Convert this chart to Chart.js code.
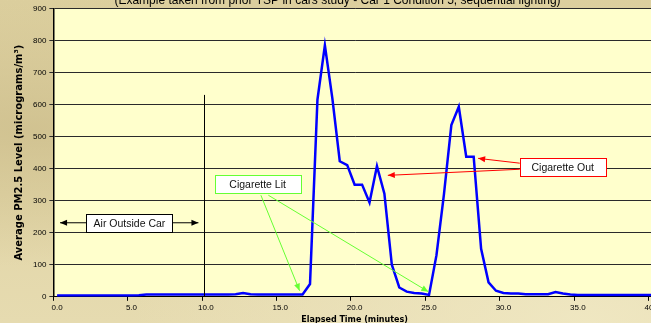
<!DOCTYPE html>
<html lang="en">
<head>
<meta charset="UTF-8" />
<title>PM2.5 in car</title>
<script src="https://cdn.jsdelivr.net/npm/chart.js"></script>
<style>
  html, body { margin: 0; padding: 0; overflow: hidden; }
  body {
    width: 651px;
    height: 323px;
    position: relative;
    background:
      radial-gradient(ellipse at 90% 100%, rgba(240,232,195,0.9) 0%, rgba(240,232,195,0) 55%),
      radial-gradient(ellipse at 5% 40%, rgba(205,190,140,0.8) 0%, rgba(205,190,140,0) 50%),
      linear-gradient(180deg, #dccf9e 0%, #e2d6a8 60%, #e6dbb0 100%);
  }
  .wrap { position: absolute; left: 0; top: -7px; }
</style>
</head>
<body>
<div class="wrap"><canvas id="chart" width="662" height="333"></canvas></div>
<script>
// elapsed time categories (minutes)
const timeLabels = ['0.0','0.5','1.0','1.5','2.0','2.5','3.0','3.5','4.0','4.5',
  '5.0','5.5','6.0','6.5','7.0','7.5','8.0','8.5','9.0','9.5',
  '10.0','10.5','11.0','11.5','12.0','12.5','13.0','13.5','14.0','14.5',
  '15.0','15.5','16.0','16.5','17.0','17.5','18.0','18.5','19.0','19.5',
  '20.0','20.5','21.0','21.5','22.0','22.5','23.0','23.5','24.0','24.5',
  '25.0','25.5','26.0','26.5','27.0','27.5','28.0','28.5','29.0','29.5',
  '30.0','30.5','31.0','31.5','32.0','32.5','33.0','33.5','34.0','34.5',
  '35.0','35.5','36.0','36.5','37.0','37.5','38.0','38.5','39.0','39.5','40.0'];

// average PM2.5 (micrograms/m3)
const pm25 = [4,4,4,4,4,4,4,4,4,4,
  4,5,7,7,7,7,7,7,7,7,
  7,7,7,7,8,12,8,7,7,7,
  7,7,7,7,40,615,785,620,423,411,
  350,350,294,408,322,100,29,16,12,10,
  6,130,319,536,593,437,437,150,45,19,
  12,10,10,8,8,8,8,15,10,7,
  6,6,6,6,6,6,6,6,6,6,6];

const yTicks = [0,100,200,300,400,500,600,700,800,900];

// annotation anchors in chart units (category index, PM2.5 value)
const divider = { x: 19.7, from: 0, to: 630 };
const textBoxes = [
  { text: 'Air Outside Car', x: 9.73, y: 230, color: '#000000' },
  { text: 'Cigarette Lit', x: 26.96, y: 351, color: '#66ff33' },
  { text: 'Cigarette Out', x: 67.97, y: 405, color: '#ff0000' }
];
const arrows = [
  { from: [3.92, 231], to: [0.4, 231], color: '#000000' },
  { from: [15.54, 231], to: [19.0, 231], color: '#000000' },
  { from: [27.4, 317], to: [32.6, 19], color: '#66ff33' },
  { from: [28.4, 317], to: [49.9, 16], color: '#66ff33' },
  { from: [62.2, 417], to: [56.6, 432], color: '#ff0000' },
  { from: [62.2, 398], to: [44.46, 379], color: '#ff0000' }
];

const plotBg = {
  id: 'plotBg',
  beforeDraw(chart) {
    const { ctx, chartArea: a } = chart;
    ctx.save();
    ctx.fillStyle = '#ffffcc';
    ctx.fillRect(a.left, a.top, a.right - a.left, a.bottom - a.top);
    ctx.restore();
  }
};

function arrowHead(ctx, x1, y1, x2, y2, color) {
  const ang = Math.atan2(y2 - y1, x2 - x1);
  const len = 7, half = 3;
  ctx.fillStyle = color;
  ctx.beginPath();
  ctx.moveTo(x2, y2);
  ctx.lineTo(x2 - len * Math.cos(ang) + half * Math.sin(ang), y2 - len * Math.sin(ang) - half * Math.cos(ang));
  ctx.lineTo(x2 - len * Math.cos(ang) - half * Math.sin(ang), y2 - len * Math.sin(ang) + half * Math.cos(ang));
  ctx.closePath();
  ctx.fill();
}

const notes = {
  id: 'notes',
  afterDatasetsDraw(chart) {
    const { ctx, scales: { x, y } } = chart;
    ctx.save();
    // divider between outside air and in-car readings
    const dx = Math.round(x.getPixelForValue(divider.x)) + 0.5;
    ctx.strokeStyle = '#000';
    ctx.lineWidth = 1;
    ctx.beginPath();
    ctx.moveTo(dx, y.getPixelForValue(divider.to));
    ctx.lineTo(dx, y.getPixelForValue(divider.from));
    ctx.stroke();

    arrows.forEach(a => {
      const x1 = x.getPixelForValue(a.from[0]), y1 = y.getPixelForValue(a.from[1]);
      const x2 = x.getPixelForValue(a.to[0]), y2 = y.getPixelForValue(a.to[1]);
      ctx.strokeStyle = a.color;
      ctx.lineWidth = 1;
      ctx.beginPath();
      ctx.moveTo(x1, y1);
      ctx.lineTo(x2, y2);
      ctx.stroke();
      arrowHead(ctx, x1, y1, x2, y2, a.color);
    });

    ctx.font = '10.5px Arial, "Liberation Sans", sans-serif';
    ctx.textAlign = 'center';
    ctx.textBaseline = 'middle';
    textBoxes.forEach(b => {
      const cx = x.getPixelForValue(b.x), cy = y.getPixelForValue(b.y);
      const w = 86, h = 18;
      const left = Math.round(cx - w / 2) + 0.5, top = Math.round(cy - h / 2) + 0.5;
      ctx.fillStyle = '#fff';
      ctx.fillRect(left, top, w, h);
      ctx.strokeStyle = b.color;
      ctx.lineWidth = 1;
      ctx.strokeRect(left, top, w, h);
      ctx.fillStyle = '#111';
      ctx.fillText(b.text, cx, cy + 1);
    });
    ctx.restore();
  }
};

new Chart(document.getElementById('chart'), {
  type: 'line',
  data: {
    labels: timeLabels,
    datasets: [{
      data: pm25,
      borderColor: '#0000ff',
      borderWidth: 2.5,
      pointRadius: 0,
      fill: false,
      tension: 0
    }]
  },
  options: {
    responsive: false,
    animation: false,
    events: [],
    layout: { padding: { left: 13, right: 0, top: 0, bottom: 0 } },
    plugins: {
      legend: { display: false },
      tooltip: { enabled: false },
      title: {
        display: true,
        text: '(Example taken from prior TSP in cars study - Car 1 Condition 5, sequential lighting)',
        color: '#000',
        font: { family: 'Arial, "Liberation Sans", sans-serif', size: 12, weight: 'normal' },
        padding: { top: 0, bottom: 1 }
      }
    },
    scales: {
      x: {
        type: 'category',
        offset: true,
        border: { color: '#000', width: 1 },
        grid: {
          offset: true,
          drawOnChartArea: false,
          tickLength: 4,
          color: ctx => ctx.index % 10 === 0 ? '#000' : 'rgba(0,0,0,0)'
        },
        ticks: {
          autoSkip: false,
          maxRotation: 0,
          padding: 2,
          color: '#000',
          font: { family: 'Arial, "Liberation Sans", sans-serif', size: 8 },
          callback: (v, i) => i % 10 === 0 ? timeLabels[i] : ''
        },
        title: {
          display: true,
          text: 'Elapsed Time (minutes)',
          color: '#000',
          font: { family: '"DejaVu Sans", Verdana, sans-serif', size: 8, weight: 'bold' },
          padding: { top: 1, bottom: 1 }
        }
      },
      y: {
        min: 0,
        max: 900,
        afterBuildTicks: s => { s.ticks = yTicks.map(v => ({ value: v })); },
        border: { color: '#000', width: 1.5 },
        grid: { color: '#2a2a2a', lineWidth: 1, tickLength: 4 },
        ticks: {
          color: '#000',
          padding: 3,
          font: { family: 'Arial, "Liberation Sans", sans-serif', size: 8 }
        },
        title: {
          display: true,
          text: 'Average PM2.5 Level (micrograms/m\u00b3)',
          color: '#000',
          font: { family: '"DejaVu Sans", Verdana, sans-serif', size: 10, weight: 'bold' },
          padding: { top: 0, bottom: 5 }
        }
      }
    }
  },
  plugins: [plotBg, notes]
});
</script>
</body>
</html>
